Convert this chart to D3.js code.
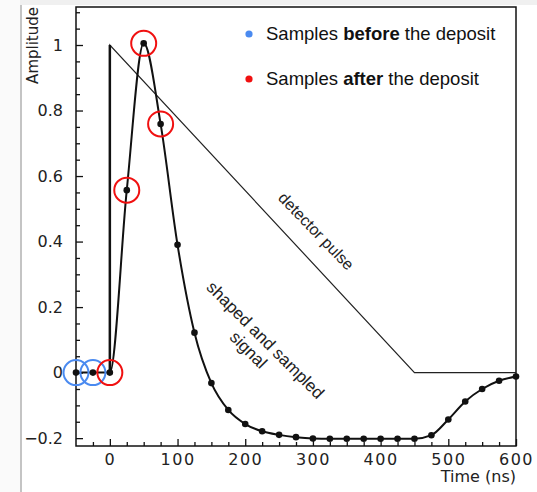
<!DOCTYPE html>
<html>
<head>
<meta charset="utf-8">
<script src="https://cdn.jsdelivr.net/npm/d3@7"></script>
<style>
  body { margin: 0; background: #fff; }
  svg { display: block; }
</style>
</head>
<body>
<svg id="chart" width="537" height="492"></svg>
<script>
// sampled shaping signal, every 25 ns
var sampleTimes = [-50, -25, 0, 25, 50, 75, 100, 125, 150, 175, 200, 225, 250, 275,
                   300, 325, 350, 375, 400, 425, 450, 475, 500, 525, 550, 575, 600];
var sampleValues = [0, 0, 0, 0.557, 1.005, 0.759, 0.39, 0.122, -0.032, -0.114, -0.157, -0.179, -0.19, -0.197,
                    -0.201, -0.202, -0.202, -0.202, -0.202, -0.202, -0.202, -0.191, -0.143, -0.088, -0.05, -0.025, -0.012];

// detector pulse corners
var pulseTimes = [0, 0, 450, 600];
var pulseValues = [0, 1, 0, 0];

// circled samples
var beforeTimes = [-50, -25];
var afterTimes = [0, 25, 50, 75];

var xTicks = [0, 100, 200, 300, 400, 500, 600];
var yTicks = [-0.2, 0, 0.2, 0.4, 0.6, 0.8, 1];

var svg = d3.select("#chart"),
    width = +svg.attr("width"),
    height = +svg.attr("height");

var margin = {top: 7, right: 21, bottom: 46, left: 76};

var x = d3.scaleLinear().domain([-50, 600]).range([margin.left, width - margin.right]);
var y = d3.scaleLinear().domain([-0.224, 1.116]).range([height - margin.bottom, margin.top]);

var samples = sampleTimes.map(function(t, i) { return {t: t, v: sampleValues[i]}; });
var pulse = pulseTimes.map(function(t, i) { return {t: t, v: pulseValues[i]}; });

// screenshot-ish border
svg.append("rect").attr("x", 0).attr("y", 0).attr("width", width).attr("height", 5).attr("fill", "#f0f0f0");
svg.append("rect").attr("x", 0).attr("y", 0).attr("width", 20).attr("height", height).attr("fill", "#fafafa");
svg.append("line").attr("x1", 21).attr("x2", 21).attr("y1", 5).attr("y2", height)
    .attr("stroke", "#c4c4c4").attr("stroke-width", 2);

// frame
svg.append("rect")
    .attr("x", x(-50)).attr("y", y(1.116))
    .attr("width", x(600) - x(-50)).attr("height", y(-0.224) - y(1.116))
    .attr("fill", "none").attr("stroke", "#111").attr("stroke-width", 1.5);

// minor ticks
var xMinor = d3.range(-25, 600, 25).filter(function(d) { return d % 100 !== 0; });
var yMinor = d3.range(-0.2, 1.11, 0.05).filter(function(d) { return Math.abs(Math.round(d * 5) - d * 5) > 0.01; });

svg.append("g")
    .attr("transform", "translate(0," + y(-0.224) + ")")
    .call(d3.axisBottom(x).tickValues(xMinor).tickSize(-4).tickFormat(""))
    .call(function(g) { g.select(".domain").remove(); });

svg.append("g")
    .attr("transform", "translate(" + x(-50) + ",0)")
    .call(d3.axisLeft(y).tickValues(yMinor).tickSize(-4).tickFormat(""))
    .call(function(g) { g.select(".domain").remove(); });

// major ticks
var xAxis = svg.append("g")
    .attr("transform", "translate(0," + y(-0.224) + ")")
    .call(d3.axisBottom(x).tickValues(xTicks).tickSize(-7).tickPadding(8).tickFormat(d3.format("d")));
xAxis.select(".domain").remove();

var yAxis = svg.append("g")
    .attr("transform", "translate(" + x(-50) + ",0)")
    .call(d3.axisLeft(y).tickValues(yTicks).tickSize(-7).tickPadding(13)
        .tickFormat(function(d) { return d === 0 ? "0" : d3.format("")(d).replace("-", "\u2212"); }));
yAxis.select(".domain").remove();

svg.selectAll(".tick line").attr("stroke", "#111").attr("stroke-width", 1.3);
svg.selectAll(".tick text")
    .attr("font-family", "DejaVu Sans")
    .attr("font-size", 16)
    .attr("fill", "#222");
xAxis.selectAll(".tick text").attr("letter-spacing", 1.5);

// axis titles
svg.append("text")
    .attr("x", x(600)).attr("y", 482)
    .attr("text-anchor", "end")
    .attr("font-family", "DejaVu Sans").attr("font-size", 16).attr("fill", "#222")
    .text("Time (ns)");

svg.append("text")
    .attr("transform", "translate(38," + margin.top + ") rotate(-90)")
    .attr("text-anchor", "end")
    .attr("font-family", "DejaVu Sans").attr("font-size", 15).attr("fill", "#222")
    .text("Amplitude");

// detector pulse
var line = d3.line().x(function(d) { return x(d.t); }).y(function(d) { return y(d.v); });

svg.append("path")
    .datum(pulse)
    .attr("d", line)
    .attr("fill", "none").attr("stroke", "#222").attr("stroke-width", 1.2);

svg.append("path")
    .datum(pulse.slice(0, 2))
    .attr("d", line)
    .attr("fill", "none").attr("stroke", "#111").attr("stroke-width", 2.5);

// shaped signal
svg.append("path")
    .datum(samples)
    .attr("d", line.curve(d3.curveMonotoneX))
    .attr("fill", "none").attr("stroke", "#111").attr("stroke-width", 2);

svg.selectAll(".sample")
    .data(samples)
    .enter().append("circle")
    .attr("class", "sample")
    .attr("cx", function(d) { return x(d.t); })
    .attr("cy", function(d) { return y(d.v); })
    .attr("r", 3.3)
    .attr("fill", "#111");

function ring(times, color) {
    svg.selectAll(null)
        .data(samples.filter(function(d) { return times.indexOf(d.t) >= 0; }))
        .enter().append("circle")
        .attr("cx", function(d) { return x(d.t); })
        .attr("cy", function(d) { return y(d.v); })
        .attr("r", 12.5)
        .attr("fill", "none")
        .attr("stroke", color)
        .attr("stroke-width", 2);
}
ring(beforeTimes, "#4a8af0");
ring(afterTimes, "#f01010");

// annotations
svg.append("text")
    .attr("transform", "translate(" + x(305) + "," + y(0.432) + ") rotate(46)")
    .attr("text-anchor", "middle").attr("dy", "0.35em")
    .attr("font-family", "Liberation Sans").attr("font-size", 16).attr("fill", "#222")
    .text("detector pulse");

var note = svg.append("text")
    .attr("transform", "translate(" + x(230) + "," + y(0.1) + ") rotate(45)")
    .attr("text-anchor", "middle")
    .attr("font-family", "Liberation Sans").attr("font-size", 17).attr("fill", "#222");
note.append("tspan").attr("x", 0).attr("dy", "0.35em").text("shaped and sampled");
note.append("tspan").attr("x", -5).attr("dy", 19).text("signal");

// legend
var legend = [
    {color: "#4a8af0", pre: "Samples ", bold: "before", post: " the deposit", y: 40},
    {color: "#f01010", pre: "Samples ", bold: "after", post: " the deposit", y: 85}
];

var lg = svg.selectAll(".legend")
    .data(legend)
    .enter().append("g")
    .attr("class", "legend");

lg.append("circle")
    .attr("cx", 249)
    .attr("cy", function(d) { return d.y - 6; })
    .attr("r", 3.6)
    .attr("fill", function(d) { return d.color; });

var lt = lg.append("text")
    .attr("x", 266)
    .attr("y", function(d) { return d.y; })
    .attr("font-family", "Liberation Sans").attr("font-size", 18.5).attr("fill", "#111");
lt.append("tspan").text(function(d) { return d.pre; });
lt.append("tspan").attr("font-weight", "bold").text(function(d) { return d.bold; });
lt.append("tspan").text(function(d) { return d.post; });
</script>
</body>
</html>
